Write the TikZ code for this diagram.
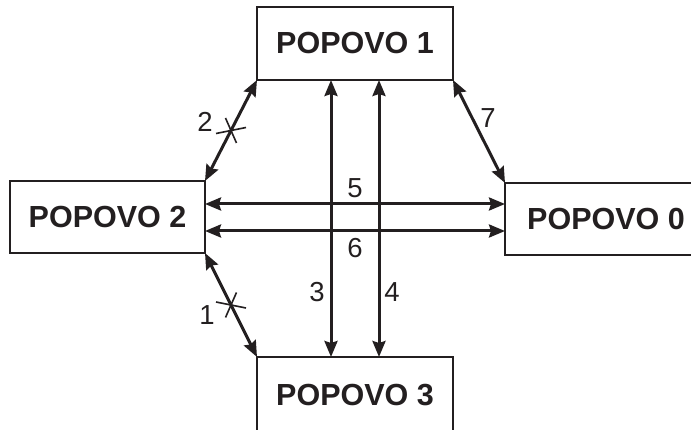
\documentclass[tikz,border=0pt]{standalone}
\usepackage{fontspec}
\setmainfont{Liberation Sans}
\usetikzlibrary{arrows.meta,calc}
\definecolor{ink}{RGB}{35,31,32}
\begin{document}
\begin{tikzpicture}[x=1pt,y=-1pt,
  box/.style={draw=ink,line width=2.2pt,rectangle,inner sep=0pt,outer sep=0pt,
    font=\fontsize{30.5}{36}\selectfont\bfseries,text=ink},
  arr/.style={draw=ink,line width=3pt,{Stealth[length=16pt,width=13pt,inset=2pt]}-{Stealth[length=16pt,width=13pt,inset=2pt]}},
  tick/.style={draw=ink,line width=1.6pt},
  lbl/.style={font=\fontsize{27.5}{32}\selectfont,text=ink,inner sep=0pt}]
\clip (0,0) rectangle (691,430);
\fill[white] (0,0) rectangle (691,430);
\node[box,minimum width=196pt,minimum height=73pt] (b1) at (355,43.5) {POPOVO 1};
\node[box,minimum width=195pt,minimum height=72pt] (b2) at (107.5,217) {POPOVO 2};
\node[box,minimum width=202pt,minimum height=72pt] (b0) at (606,219) {POPOVO 0};
\node[box,minimum width=196pt,minimum height=76pt] (b3) at (355,395) {POPOVO 3};
% diagonal links
\draw[arr] (b1.south west) -- (b2.north east);
\draw[arr] (b2.south east) -- (b3.north west);
\draw[arr] (b1.south east) -- (b0.north west);
% horizontal links
\draw[arr] (b2.east |- 0,204) -- (b0.west |- 0,204);
\draw[arr] (b2.east |- 0,231) -- (b0.west |- 0,231);
% vertical links
\draw[arr] (b1.south -| 331,0) -- (b3.north -| 331,0);
\draw[arr] (b1.south -| 379,0) -- (b3.north -| 379,0);
% crosses
\coordinate (c2) at ($(b1.south west)!.5!(b2.north east)$);
\coordinate (c1) at ($(b2.south east)!.5!(b3.north west)$);
\draw[tick] ($(c2)+(-15,3)$) -- ($(c2)+(15,-3)$);
\draw[tick] ($(c2)+(-5.5,-12.5)$) -- ($(c2)+(5.5,12.5)$);
\draw[tick] ($(c1)+(-15,-3)$) -- ($(c1)+(15,3)$);
\draw[tick] ($(c1)+(5.5,-12.5)$) -- ($(c1)+(-5.5,12.5)$);
% labels
\node[lbl] (l2) at (205,122) {2};
\node[lbl] (l1) at (207,315) {1};
\node[lbl] (l7) at (488,118) {7};
\node[lbl] (l5) at (355,188) {5};
\node[lbl] (l6) at (355,248) {6};
\node[lbl] (l3) at (317,292) {3};
\node[lbl] (l4) at (392,292) {4};
\end{tikzpicture}
\end{document}
